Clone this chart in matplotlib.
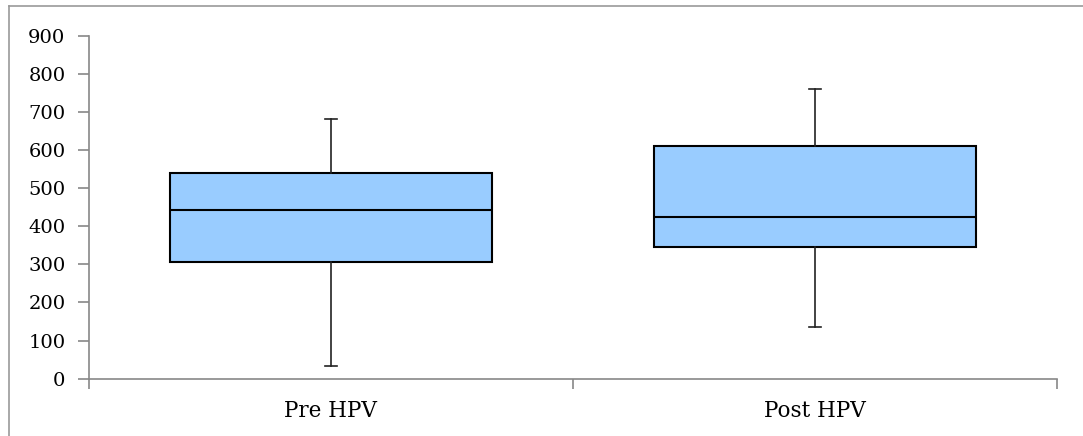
import matplotlib
matplotlib.use('Agg')
import matplotlib.pyplot as plt
from matplotlib.lines import Line2D

# box plot summary values
groups = ['Pre HPV', 'Post HPV']
whisker_low = [33, 136]
q1 = [305, 346]
median = [443, 425]
q3 = [539, 611]
whisker_high = [681, 761]

plt.rcParams['font.family'] = ['DejaVu Serif']

fig = plt.figure(figsize=(10.83, 4.36), dpi=100)
ax = fig.add_axes([89 / 1083, 1 - 378.7 / 436, (1057 - 89) / 1083, (378.7 - 35.7) / 436])

stats = []
for i, g in enumerate(groups):
    stats.append({'label': g, 'whislo': whisker_low[i], 'q1': q1[i], 'med': median[i],
                  'q3': q3[i], 'whishi': whisker_high[i], 'fliers': []})

ax.bxp(stats, positions=[0.5, 1.5], widths=0.667, patch_artist=True, showfliers=False,
       boxprops=dict(facecolor='#99ccff', edgecolor='black', linewidth=1.5),
       medianprops=dict(color='black', linewidth=1.5),
       whiskerprops=dict(color='#222222', linewidth=1.2),
       capprops=dict(color='#222222', linewidth=1.2),
       capwidths=0.025)

ax.set_xlim(0, 2)
ax.set_ylim(0, 900)
ax.set_yticks(range(0, 1000, 100))
ax.set_yticklabels([str(v) for v in range(0, 1000, 100)], family='DejaVu Serif', fontsize=14)
ax.set_xticks([0, 1, 2])
ax.set_xticklabels([])
ax.set_xticks([0.5, 1.5], minor=True)
ax.set_xticklabels(groups, minor=True, fontsize=15.5, family='DejaVu Serif')
ax.tick_params(axis='x', which='minor', length=0, pad=15)
ax.tick_params(axis='x', which='major', length=7, color='#888888', width=1.2)
ax.tick_params(axis='y', length=8, color='#888888', width=1.2, pad=9)

for s in ['top', 'right']:
    ax.spines[s].set_visible(False)
for s in ['left', 'bottom']:
    ax.spines[s].set_color('#888888')
    ax.spines[s].set_linewidth(1.2)

# outer chart frame (top and left visible)
fig.add_artist(Line2D([8.5 / 1083, 1.0], [1 - 6.5 / 436] * 2, transform=fig.transFigure, color='#999999', lw=1.2))
fig.add_artist(Line2D([8.5 / 1083] * 2, [0, 1 - 6.5 / 436], transform=fig.transFigure, color='#999999', lw=1.2))

fig.savefig('out.png', dpi=100)
